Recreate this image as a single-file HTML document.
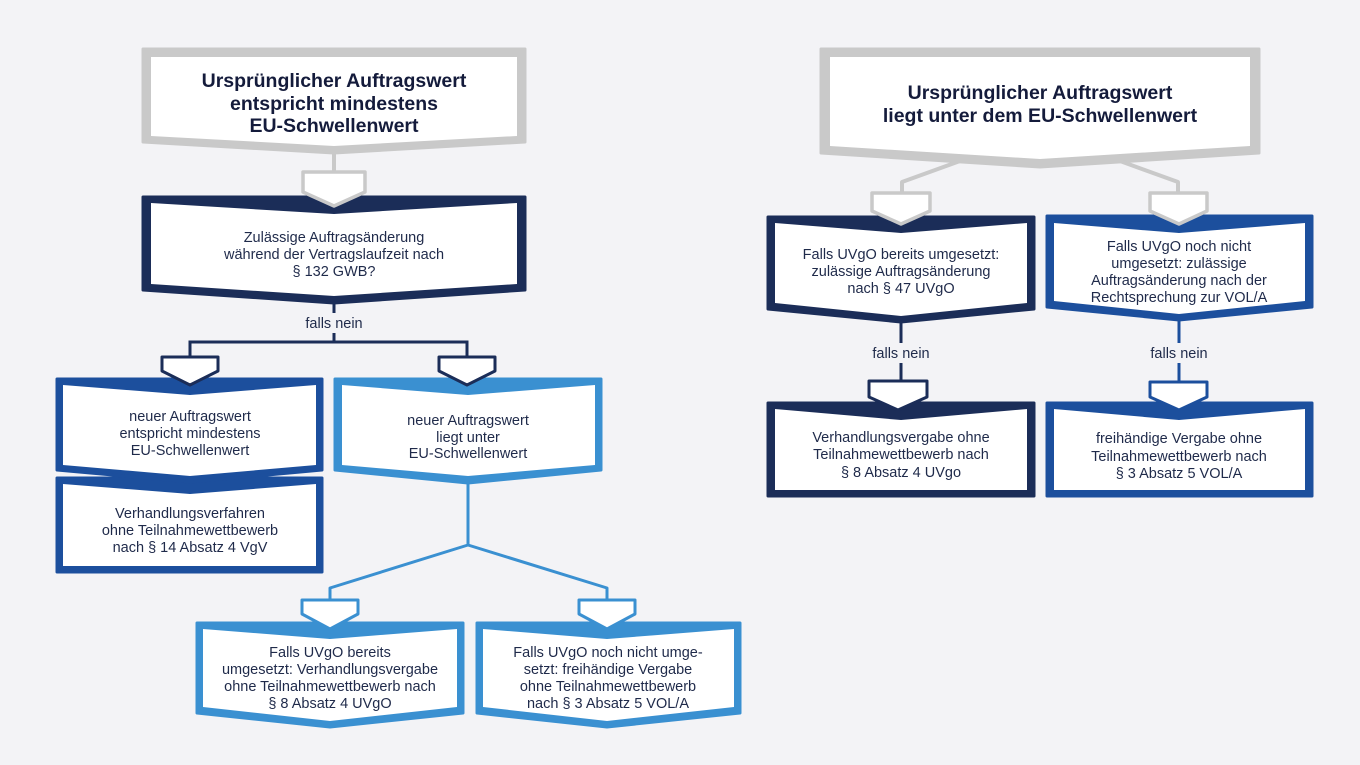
<!DOCTYPE html>
<html>
<head>
<meta charset="utf-8">
<style>
  html,body{margin:0;padding:0;background:#f3f3f6;}
  svg{display:block;}
  .t{font-family:"Liberation Sans",Arial,sans-serif;font-size:14.5px;fill:#1f2a4a;text-anchor:middle;}
  .h{font-family:"Liberation Sans",Arial,sans-serif;font-size:19.5px;font-weight:bold;fill:#141b3b;text-anchor:middle;}
</style>
</head>
<body>
<svg width="1360" height="765" viewBox="0 0 1360 765" xmlns="http://www.w3.org/2000/svg">
  <rect x="0" y="0" width="1360" height="765" fill="#f3f3f6"/>

  <!-- ================= LEFT COLUMN ================= -->
  <polygon points="143,49 525,49 525,142 334,153 143,142" fill="#c9c9c9" stroke="#c9c9c9" stroke-width="3" stroke-linejoin="round"/>
  <polygon points="151,57 517,57 517,136 334,146 151,136" fill="#ffffff"/>
  <text class="h" x="334" y="87">Ursprünglicher Auftragswert</text>
  <text class="h" x="334" y="110">entspricht mindestens</text>
  <text class="h" x="334" y="132">EU-Schwellenwert</text>

  <line x1="334" y1="150" x2="334" y2="173" stroke="#c9c9c9" stroke-width="4"/>

  <polygon points="143,197 525,197 525,290 334,303 143,290" fill="#1b2d58" stroke="#1b2d58" stroke-width="3" stroke-linejoin="round"/>
  <polygon points="151,203 334,214 517,203 517,284 334,296 151,284" fill="#ffffff"/>
  <text class="t" x="334" y="242">Zulässige Auftragsänderung</text>
  <text class="t" x="334" y="259">während der Vertragslaufzeit nach</text>
  <text class="t" x="334" y="276">§ 132 GWB?</text>

  <polygon points="303,172 365,172 365,192 334,206 303,192" fill="#ffffff" stroke="#c9c9c9" stroke-width="3.5" stroke-linejoin="round"/>

  <line x1="334" y1="302" x2="334" y2="313" stroke="#1b2d58" stroke-width="3"/>
  <text class="t" x="334" y="328">falls nein</text>
  <line x1="334" y1="333" x2="334" y2="342" stroke="#1b2d58" stroke-width="3"/>
  <polyline points="190,358 190,342 467,342 467,358" fill="none" stroke="#1b2d58" stroke-width="3"/>

  <polygon points="57,478 322,478 322,572 57,572" fill="#1c4f9d" stroke="#1c4f9d" stroke-width="3" stroke-linejoin="round"/>
  <polygon points="63,484 190,494 316,484 316,566 63,566" fill="#ffffff"/>
  <text class="t" x="190" y="518">Verhandlungsverfahren</text>
  <text class="t" x="190" y="535">ohne Teilnahmewettbewerb</text>
  <text class="t" x="190" y="552">nach § 14 Absatz 4 VgV</text>

  <polygon points="57,379 322,379 322,470 190,482 57,470" fill="#1c4f9d" stroke="#1c4f9d" stroke-width="3" stroke-linejoin="round"/>
  <polygon points="63,385 190,395 316,385 316,465 190,476 63,465" fill="#ffffff"/>
  <text class="t" x="190" y="421">neuer Auftragswert</text>
  <text class="t" x="190" y="438">entspricht mindestens</text>
  <text class="t" x="190" y="455">EU-Schwellenwert</text>

  <polygon points="335,379 601,379 601,470 468,483 335,470" fill="#3a90d1" stroke="#3a90d1" stroke-width="3" stroke-linejoin="round"/>
  <polygon points="342,385 468,395 595,385 595,465 468,476 342,465" fill="#ffffff"/>
  <text class="t" x="468" y="425">neuer Auftragswert</text>
  <text class="t" x="468" y="442">liegt unter</text>
  <text class="t" x="468" y="458">EU-Schwellenwert</text>

  <polygon points="162,357 218,357 218,371 190,385 162,371" fill="#ffffff" stroke="#1b2d58" stroke-width="3" stroke-linejoin="round"/>
  <polygon points="439,357 495,357 495,371 467,385 439,371" fill="#ffffff" stroke="#1b2d58" stroke-width="3" stroke-linejoin="round"/>

  <polyline points="468,482 468,545 330,588 330,601" fill="none" stroke="#3a90d1" stroke-width="3" stroke-linejoin="round"/>
  <polyline points="468,545 607,588 607,601" fill="none" stroke="#3a90d1" stroke-width="3" stroke-linejoin="round"/>

  <polygon points="197,623 463,623 463,713 330,727 197,713" fill="#3a90d1" stroke="#3a90d1" stroke-width="3" stroke-linejoin="round"/>
  <polygon points="203,629 330,639 457,629 457,707 330,721 203,707" fill="#ffffff"/>
  <text class="t" x="330" y="657">Falls UVgO bereits</text>
  <text class="t" x="330" y="674">umgesetzt: Verhandlungsvergabe</text>
  <text class="t" x="330" y="691">ohne Teilnahmewettbewerb nach</text>
  <text class="t" x="330" y="708">§ 8 Absatz 4 UVgO</text>

  <polygon points="477,623 740,623 740,713 607,727 477,713" fill="#3a90d1" stroke="#3a90d1" stroke-width="3" stroke-linejoin="round"/>
  <polygon points="483,629 607,639 734,629 734,707 607,721 483,707" fill="#ffffff"/>
  <text class="t" x="608" y="657">Falls UVgO noch nicht umge-</text>
  <text class="t" x="608" y="674">setzt: freihändige Vergabe</text>
  <text class="t" x="608" y="691">ohne Teilnahmewettbewerb</text>
  <text class="t" x="608" y="708">nach § 3 Absatz 5 VOL/A</text>

  <polygon points="302,600 358,600 358,614 330,629 302,614" fill="#ffffff" stroke="#3a90d1" stroke-width="3" stroke-linejoin="round"/>
  <polygon points="579,600 635,600 635,614 607,629 579,614" fill="#ffffff" stroke="#3a90d1" stroke-width="3" stroke-linejoin="round"/>

  <!-- ================= RIGHT COLUMN ================= -->
  <polygon points="821,49 1259,49 1259,153 1040,167 821,153" fill="#c9c9c9" stroke="#c9c9c9" stroke-width="3" stroke-linejoin="round"/>
  <polygon points="830,57 1250,57 1250,146 1040,159 830,146" fill="#ffffff"/>
  <text class="h" x="1040" y="99">Ursprünglicher Auftragswert</text>
  <text class="h" x="1040" y="122">liegt unter dem EU-Schwellenwert</text>

  <polyline points="960,161 902,182 902,194" fill="none" stroke="#c9c9c9" stroke-width="4" stroke-linejoin="round"/>
  <polyline points="1120,161 1178,182 1178,194" fill="none" stroke="#c9c9c9" stroke-width="4" stroke-linejoin="round"/>

  <polygon points="768,217 1034,217 1034,309 901,322 768,309" fill="#1b2d58" stroke="#1b2d58" stroke-width="3" stroke-linejoin="round"/>
  <polygon points="775,223 901,233 1027,223 1027,303 901,316 775,303" fill="#ffffff"/>
  <text class="t" x="901" y="259">Falls UVgO bereits umgesetzt:</text>
  <text class="t" x="901" y="276">zulässige Auftragsänderung</text>
  <text class="t" x="901" y="293">nach § 47 UVgO</text>

  <polygon points="1047,216 1312,216 1312,307 1179,320 1047,307" fill="#1c4f9d" stroke="#1c4f9d" stroke-width="3" stroke-linejoin="round"/>
  <polygon points="1054,223 1179,233 1305,223 1305,301 1179,314 1054,301" fill="#ffffff"/>
  <text class="t" x="1179" y="251">Falls UVgO noch nicht</text>
  <text class="t" x="1179" y="268">umgesetzt: zulässige</text>
  <text class="t" x="1179" y="285">Auftragsänderung nach der</text>
  <text class="t" x="1179" y="302">Rechtsprechung zur VOL/A</text>

  <polygon points="872,193 930,193 930,211 901,224 872,211" fill="#ffffff" stroke="#c9c9c9" stroke-width="3.5" stroke-linejoin="round"/>
  <polygon points="1150,193 1207,193 1207,211 1179,224 1150,211" fill="#ffffff" stroke="#c9c9c9" stroke-width="3.5" stroke-linejoin="round"/>

  <line x1="901" y1="321" x2="901" y2="343" stroke="#1b2d58" stroke-width="3"/>
  <text class="t" x="901" y="358">falls nein</text>
  <line x1="901" y1="363" x2="901" y2="382" stroke="#1b2d58" stroke-width="3"/>

  <line x1="1179" y1="319" x2="1179" y2="343" stroke="#1c4f9d" stroke-width="3"/>
  <text class="t" x="1179" y="358">falls nein</text>
  <line x1="1179" y1="363" x2="1179" y2="382" stroke="#1c4f9d" stroke-width="3"/>

  <polygon points="768,403 1034,403 1034,496 768,496" fill="#1b2d58" stroke="#1b2d58" stroke-width="3" stroke-linejoin="round"/>
  <polygon points="775,409 901,420 1027,409 1027,490 775,490" fill="#ffffff"/>
  <text class="t" x="901" y="442">Verhandlungsvergabe ohne</text>
  <text class="t" x="901" y="459">Teilnahmewettbewerb nach</text>
  <text class="t" x="901" y="477">§ 8 Absatz 4 UVgo</text>

  <polygon points="1047,403 1312,403 1312,496 1047,496" fill="#1c4f9d" stroke="#1c4f9d" stroke-width="3" stroke-linejoin="round"/>
  <polygon points="1054,409 1179,420 1305,409 1305,490 1054,490" fill="#ffffff"/>
  <text class="t" x="1179" y="443">freihändige Vergabe ohne</text>
  <text class="t" x="1179" y="461">Teilnahmewettbewerb nach</text>
  <text class="t" x="1179" y="478">§ 3 Absatz 5 VOL/A</text>

  <polygon points="869,381 927,381 927,397 898,410 869,397" fill="#ffffff" stroke="#1b2d58" stroke-width="3" stroke-linejoin="round"/>
  <polygon points="1150,382 1207,382 1207,397 1179,410 1150,397" fill="#ffffff" stroke="#1c4f9d" stroke-width="3" stroke-linejoin="round"/>
</svg>
</body>
</html>
